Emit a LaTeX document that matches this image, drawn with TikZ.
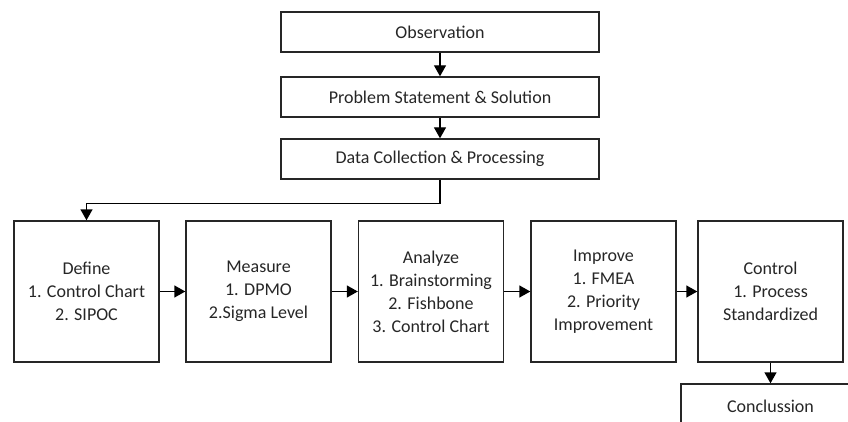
\documentclass[tikz,border=0pt]{standalone}
\usepackage{fontspec}
\setmainfont{Carlito}
\usetikzlibrary{arrows.meta}

\begin{document}
\begin{tikzpicture}[x=1pt, y=-1pt,
		every node/.style = {font=\fontsize{18}{23}\selectfont, text=black!85, align=center},
		topbox/.style = {shape=rectangle, draw=black!85, line width=1.4pt,
			minimum width=318pt, minimum height=40pt, inner sep=0pt},
		phasebox/.style = {shape=rectangle, draw=black!85, line width=1.4pt,
			minimum width=145pt, minimum height=141pt, inner sep=0pt},
		flow/.style = {draw=black, line width=1.4pt, -{Triangle[length=11pt, width=12pt]}}]
	\path[use as bounding box, clip] (0,0) rectangle (848,422);
	% top of the chart
	\node[topbox] (obs) at (440,32) {Observation};
	\node[topbox] (prob) at (440,97) {Problem Statement \& Solution};
	\node[topbox] (data) at (440,159) {Data Collection \& Processing};
	% DMAIC row
	\node[phasebox] (define) at (86.5,291.5) {Define\\1. Control Chart\\2. SIPOC};
	\node[phasebox] (measure) at (258.5,291.5) {Measure\\1. DPMO\\2.Sigma Level};
	\node[phasebox] (analyze) at (431,291.5) {Analyze\\1. Brainstorming\\2. Fishbone\\3. Control Chart};
	\node[phasebox] (improve) at (603.5,291.5) {Improve\\1. FMEA\\2. Priority\\Improvement};
	\node[phasebox] (control) at (770.5,291.5) {Control\\1. Process\\Standardized};
	\node[topbox, minimum width=179pt, minimum height=44pt] (concl) at (770.5,406) {Conclussion};
	% arrows
	\draw[flow] (obs) -- (prob);
	\draw[flow] (prob) -- (data);
	\draw[flow] (data.south) -- ++(0,24) -| (define.north);
	\draw[flow] (define) -- (measure);
	\draw[flow] (measure) -- (analyze);
	\draw[flow] (analyze) -- (improve);
	\draw[flow] (improve) -- (control);
	\draw[flow] (control) -- (concl);
\end{tikzpicture}
\end{document}
